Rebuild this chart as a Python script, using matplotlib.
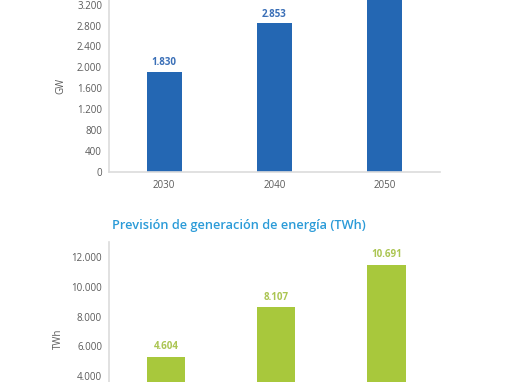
import matplotlib
matplotlib.use("Agg")
import matplotlib.pyplot as plt

# data
years = ["2030", "2040", "2050"]
gw_heights = [1915, 2849, 3700]
gw_labels = ["1.830", "2.853", ""]        # 2050 label cut off in reference
twh_heights = [5300, 8626, 11475]
twh_labels = ["4.604", "8.107", "10.691"]
gw_ticks = [0, 400, 800, 1200, 1600, 2000, 2400, 2800, 3200]
twh_ticks = [4000, 6000, 8000, 10000, 12000]
title_bottom = "Previsión de generación de energía (TWh)"

W, H = 510, 382
plt.rcParams['font.family'] = ['Open Sans', 'DejaVu Sans']
fig = plt.figure(figsize=(W / 100, H / 100), dpi=100)

def fx(px):
    return px / W

def fy(py):
    return 1 - py / H

def fmt(v):
    return f"{v:,}".replace(",", ".")

tick_col = "#5a5a5a"
spine_col = "#dcdcdc"
blue = "#2467b3"
blue_lbl = "#3a6fb7"
green = "#a8c83c"
green_lbl = "#abc552"
title_col = "#2b9bd8"

# top axes: x 109..440, y 0(top, ~3290) .. 171.5 (zero)
ax1 = fig.add_axes([fx(109), fy(171.5), fx(440) - fx(109), fy(0) - fy(171.5)])
x = list(range(len(years)))
ax1.bar(x, gw_heights, width=0.32, color=blue, zorder=2)
ax1.set_xlim(-0.5, 2.5)
ax1.set_ylim(0, 3290)
ax1.set_yticks(gw_ticks)
ax1.set_yticklabels([fmt(t) for t in gw_ticks])
ax1.set_xticks(x)
ax1.set_xticklabels(years)
for i, (h, lab) in enumerate(zip(gw_heights, gw_labels)):
    if lab:
        ax1.annotate(lab, (i, h), xytext=(0, 2.5), textcoords="offset points",
                     ha="center", va="bottom", color=blue_lbl, fontsize=7,
                     fontweight="bold")
ax1.set_ylabel("GW", color=tick_col, fontsize=7, labelpad=8)

# bottom axes: zero at y=435.4 (off-figure), top at 241.7 (~13050)
ax2 = fig.add_axes([fx(109), fy(435.4), fx(440) - fx(109), fy(241.7) - fy(435.4)])
ax2.bar(x, twh_heights, width=0.345, color=green, zorder=2)
ax2.set_xlim(-0.515, 2.485)
ax2.set_ylim(0, 13050)
ax2.set_yticks(twh_ticks)
ax2.set_yticklabels([fmt(t) for t in twh_ticks])
ax2.set_xticks([])
for i, (h, lab) in enumerate(zip(twh_heights, twh_labels)):
    ax2.annotate(lab, (i, h), xytext=(0, 3.5), textcoords="offset points",
                 ha="center", va="bottom", color=green_lbl, fontsize=7,
                 fontweight="bold")
ax2.set_ylabel("TWh", color=tick_col, fontsize=7, labelpad=5)

fig.text(fx(239), fy(226), title_bottom, ha="center", va="center",
         color=title_col, fontsize=9.2, fontweight="semibold")

for ax in (ax1, ax2):
    for s in ("top", "right"):
        ax.spines[s].set_visible(False)
    ax.spines["left"].set_color(spine_col)
    ax.spines["bottom"].set_color(spine_col)
    ax.spines["left"].set_linewidth(1.2)
    ax.spines["bottom"].set_linewidth(1.2)
    ax.tick_params(axis="y", length=0, colors=tick_col, labelsize=7, pad=5)
    ax.tick_params(axis="x", length=0, colors=tick_col, labelsize=7, pad=6)
    ax.set_facecolor("none")

fig.savefig("out.png", dpi=100)
